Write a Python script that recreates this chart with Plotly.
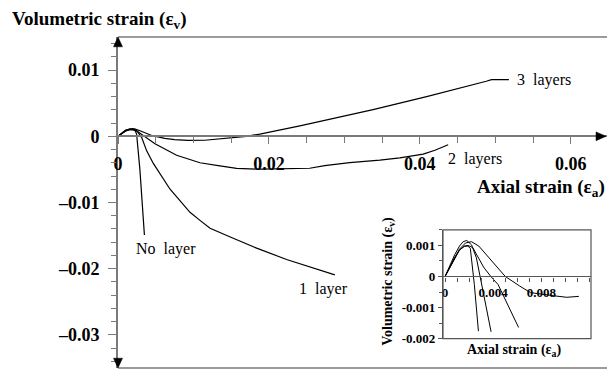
import plotly.graph_objects as go

# ---------------- main chart data ----------------
no_layer_x = [0, 0.0005, 0.001, 0.0015, 0.00195, 0.0023, 0.00247, 0.0029, 0.0032, 0.0035]
no_layer_y = [0, 0.0005, 0.0009, 0.00105, 0.00108, 0.0008, 0.0003, -0.0050, -0.0095, -0.0149]

one_layer_x = [0, 0.0005, 0.001, 0.0015, 0.002, 0.0025, 0.00313, 0.0038, 0.00468, 0.0069,
               0.00954, 0.01086, 0.0122, 0.0148, 0.01837, 0.02234, 0.02587, 0.02874]
one_layer_y = [0, 0.0005, 0.0009, 0.0011, 0.00112, 0.0008, -0.00015, -0.0022, -0.0041, -0.0080,
               -0.01148, -0.0127, -0.0139, -0.01517, -0.01689, -0.01861, -0.01994, -0.02093]

two_layers_x = [0, 0.0005, 0.001, 0.0015, 0.002, 0.0025, 0.0032, 0.0039, 0.0049, 0.00777,
                0.01086, 0.0135, 0.01572, 0.019, 0.0219, 0.0254, 0.0274, 0.0307, 0.0347,
                0.03735, 0.04044, 0.042, 0.04375]
two_layers_y = [0, 0.0004, 0.0008, 0.00098, 0.001, 0.0008, 0.0002, -0.0004, -0.00113, -0.00286,
                -0.0040, -0.00448, -0.00485, -0.00497, -0.00495, -0.00483, -0.00443, -0.00399, -0.00359,
                -0.00325, -0.0027, -0.00211, -0.00128]

three_layers_x = [0, 0.0005, 0.001, 0.0016, 0.0022, 0.003, 0.0037, 0.0043, 0.005, 0.0062,
                  0.0075, 0.0092, 0.0115, 0.0148, 0.017, 0.0188, 0.0241, 0.0338, 0.0409,
                  0.0488, 0.0495, 0.0518]
three_layers_y = [0, 0.0004, 0.0008, 0.0011, 0.00112, 0.0008, 0.00045, 0.0002, 0.0, -0.0003,
                  -0.0005, -0.00062, -0.0006, -0.0003, 0.0, 0.00034, 0.00158, 0.00403, 0.0060,
                  0.00832, 0.00857, 0.00857]

x_tickvals = [0, 0.02, 0.04, 0.06]
x_ticktext = ["0", "0.02", "0.04", "0.06"]
y_tickvals = [-0.03, -0.02, -0.01, 0, 0.01]
y_ticktext = ["\u20130.03", "\u20130.02", "\u20130.01", "0", "0.01"]

series_labels = ["No  layer", "1  layer", "2  layers", "3  layers"]
label_x = [0.0021, 0.0237, 0.0434, 0.0526]
label_y = [-0.0170, -0.0231, -0.0034, 0.0085]

# ---------------- inset data ----------------
in_no_layer_x = [0, 0.0004, 0.0008, 0.0012, 0.0016, 0.0019, 0.0021, 0.00243, 0.00277]
in_no_layer_y = [0, 0.0003, 0.00062, 0.00085, 0.00097, 0.00098, 0.0009, -0.00026, -0.00176]

in_one_layer_x = [0, 0.0004, 0.0008, 0.0012, 0.0015, 0.0018, 0.0022, 0.0026, 0.00304, 0.0034, 0.00382]
in_one_layer_y = [0, 0.00035, 0.0007, 0.00098, 0.00112, 0.00116, 0.00102, 0.0006, -0.00026, -0.0010, -0.00178]

in_two_layers_x = [0, 0.0004, 0.0008, 0.0012, 0.0016, 0.0019, 0.0023, 0.0027, 0.0032, 0.0038, 0.0044, 0.0061]
in_two_layers_y = [0, 0.0003, 0.0006, 0.00085, 0.00098, 0.001, 0.00093, 0.00065, 0.0003, 0.0, -0.00026, -0.00164]

in_three_layers_x = [0, 0.0004, 0.0008, 0.0012, 0.0017, 0.0022, 0.0028, 0.0037, 0.0043, 0.005,
                     0.0062, 0.0071, 0.009, 0.0101, 0.0111]
in_three_layers_y = [0, 0.0003, 0.0006, 0.00088, 0.00108, 0.00112, 0.00098, 0.00057, 0.00031, 0.0,
                     -0.00031, -0.00052, -0.00062, -0.00067, -0.00064]

in_x_tickvals = [0, 0.004, 0.008]
in_x_ticktext = ["0", "0.004", "0.008"]
in_y_tickvals = [-0.002, -0.001, 0, 0.001]
in_y_ticktext = ["-0.002", "-0.001", "0", "0.001"]

# ---------------- figure ----------------
FONT = "Liberation Serif"
AX = "#7a7a7a"
W_PX, H_PX = 489.0, 338.0  # plot area size in pixels
fig = go.Figure()

for xs, ys in [(no_layer_x, no_layer_y), (one_layer_x, one_layer_y),
               (two_layers_x, two_layers_y), (three_layers_x, three_layers_y)]:
    fig.add_trace(go.Scatter(x=xs, y=ys, mode="lines", line=dict(color="black", width=1.2),
                             xaxis="x", yaxis="y", showlegend=False, hoverinfo="skip"))

for xs, ys in [(in_no_layer_x, in_no_layer_y), (in_one_layer_x, in_one_layer_y),
               (in_two_layers_x, in_two_layers_y), (in_three_layers_x, in_three_layers_y)]:
    fig.add_trace(go.Scatter(x=xs, y=ys, mode="lines", line=dict(color="black", width=1.0),
                             xaxis="x2", yaxis="y2", showlegend=False, hoverinfo="skip"))

main_yr = [-0.035, 0.015]
in_yr = [-0.002, 0.0015]
in_dom_y = [0.0888, 0.4172]
in_zero_pos = in_dom_y[0] + (0 - in_yr[0]) / (in_yr[1] - in_yr[0]) * (in_dom_y[1] - in_dom_y[0])
main_zero_pos = (0 - main_yr[0]) / (main_yr[1] - main_yr[0])

tickfont = dict(family=FONT, size=18, color="black", weight="bold")
in_tickfont = dict(family=FONT, size=13, color="black", weight="bold")

fig.update_layout(
    width=607, height=376,
    margin=dict(l=118, r=0, t=37, b=1),
    paper_bgcolor="white", plot_bgcolor="white",
    showlegend=False,
    xaxis=dict(range=[0, 0.0648], domain=[0, 1], anchor="free", position=main_zero_pos,
               showgrid=False, zeroline=False, showline=True, linecolor=AX, linewidth=1.6,
               tickmode="array", tickvals=x_tickvals, ticktext=x_ticktext,
               ticks="outside", ticklen=7, tickcolor=AX, tickwidth=1.3, tickfont=tickfont,
               ticklabelstandoff=4,
               minor=dict(dtick=0.005, tick0=0, ticks="outside", ticklen=6, tickcolor=AX, tickwidth=1.3)),
    yaxis=dict(range=main_yr, domain=[0, 1], anchor="x",
               showgrid=False, zeroline=False, showline=True, linecolor=AX, linewidth=1.6,
               tickmode="array", tickvals=y_tickvals, ticktext=y_ticktext,
               ticks="outside", ticklen=8, tickcolor=AX, tickwidth=1.3, tickfont=tickfont,
               ticklabelstandoff=5,
               minor=dict(dtick=0.002, tick0=0, ticks="outside", ticklen=5, tickcolor=AX, tickwidth=1.3)),
    xaxis2=dict(range=[-0.00017, 0.01211], domain=[0.6646, 0.9673], anchor="free", position=in_zero_pos,
                showgrid=False, zeroline=False, showline=True, linecolor="#555", linewidth=1.2,
                tickmode="array", tickvals=in_x_tickvals, ticktext=in_x_ticktext,
                ticks="outside", ticklen=4, tickcolor="#555", tickwidth=1, tickfont=in_tickfont,
                minor=dict(dtick=0.001, tick0=0, ticks="outside", ticklen=4, tickcolor="#555", tickwidth=1)),
    yaxis2=dict(range=in_yr, domain=in_dom_y, anchor="x2",
                showgrid=False, zeroline=False, showline=True, linecolor="#555", linewidth=1.2,
                tickmode="array", tickvals=in_y_tickvals, ticktext=in_y_ticktext,
                ticks="outside", ticklen=4, tickcolor="#555", tickwidth=1, tickfont=in_tickfont,
                minor=dict(dtick=0.0005, tick0=0, ticks="outside", ticklen=3, tickcolor="#555", tickwidth=1)),
)

# frame lines of main plot (top and bottom)
fig.add_shape(type="line", xref="x domain", yref="y domain", x0=0, x1=1, y0=1, y1=1,
              line=dict(color=AX, width=1.6))
fig.add_shape(type="line", xref="x domain", yref="y domain", x0=0, x1=1, y0=0, y1=0,
              line=dict(color=AX, width=1.6))
# inset frame
fig.add_shape(type="rect", xref="x2 domain", yref="y2 domain", x0=0, x1=1, y0=0, y1=1,
              line=dict(color="#555", width=1.2))

# axis arrowheads (filled triangles, sized in pixels)
hw, hl = 4.5, 10.0
ax_w, ax_l = hw / W_PX, hl / H_PX   # for vertical arrows
ay_w, ay_l = hw / H_PX, hl / W_PX   # for horizontal arrow
tri = dict(type="path", xref="x domain", yref="y domain", fillcolor="black",
           line=dict(color="black", width=0.5))
fig.add_shape(path=f"M 0 1 L {-ax_w} {1 - ax_l} L {ax_w} {1 - ax_l} Z", **tri)
fig.add_shape(path=f"M 0 0 L {-ax_w} {ax_l} L {ax_w} {ax_l} Z", **tri)
xt = 0.998
fig.add_shape(path=f"M {xt} {main_zero_pos} L {xt - ay_l} {main_zero_pos + ay_w} "
                   f"L {xt - ay_l} {main_zero_pos - ay_w} Z", **tri)

# series labels
for t, lx, ly in zip(series_labels, label_x, label_y):
    fig.add_annotation(x=lx, y=ly, xref="x", yref="y", text=t, showarrow=False,
                       xanchor="left", yanchor="middle",
                       font=dict(family=FONT, size=16, color="black"))

# axis titles
fig.add_annotation(x=-0.2209, y=1.0503, xref="paper", yref="paper",
                   text="Volumetric strain (\u03b5<sub>v</sub>)", showarrow=False,
                   xanchor="left", yanchor="middle",
                   font=dict(family=FONT, size=19, color="black", weight="bold"))
fig.add_annotation(x=1.0, y=0.5423, xref="paper", yref="paper",
                   text="Axial strain (\u03b5<sub>a</sub>)", showarrow=False,
                   xanchor="right", yanchor="middle",
                   font=dict(family=FONT, size=19, color="black", weight="bold"))
fig.add_annotation(x=0.5542, y=0.2604, xref="paper", yref="paper",
                   text="Volumetric strain (\u03b5<sub>v</sub>)", showarrow=False, textangle=-90,
                   xanchor="center", yanchor="middle",
                   font=dict(family=FONT, size=14, color="black", weight="bold"))
fig.add_annotation(x=0.8098, y=0.0541, xref="paper", yref="paper",
                   text="Axial strain (\u03b5<sub>a</sub>)", showarrow=False,
                   xanchor="center", yanchor="middle",
                   font=dict(family=FONT, size=14, color="black", weight="bold"))

fig.write_html("out.html")
